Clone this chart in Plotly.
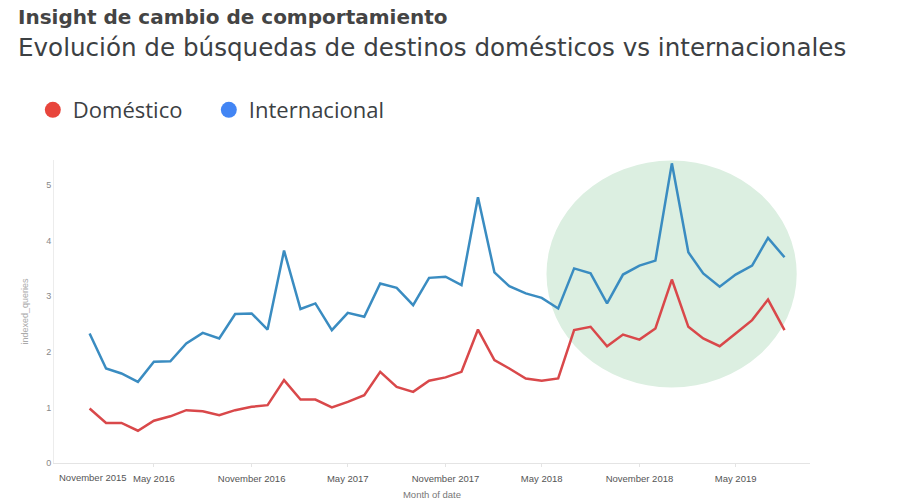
import plotly.graph_objects as go
import pandas as pd

months = pd.date_range("2016-01-01", periods=44, freq="MS").strftime("%Y-%m-%d").tolist()

internacional = [
    2.33, 1.70, 1.61, 1.46, 1.82, 1.83, 2.15, 2.34, 2.24, 2.68, 2.69, 2.40,
    3.82, 2.77, 2.87, 2.39, 2.70, 2.63, 3.23, 3.15, 2.84, 3.33, 3.35, 3.20,
    4.78, 3.43, 3.18, 3.05, 2.97, 2.78, 3.50, 3.41, 2.87, 3.39, 3.55, 3.64,
    5.39, 3.79, 3.41, 3.17, 3.39, 3.55, 4.05, 3.70,
]
domestico = [
    0.98, 0.72, 0.72, 0.58, 0.76, 0.84, 0.95, 0.93, 0.86, 0.95, 1.01, 1.04,
    1.49, 1.14, 1.14, 1.00, 1.10, 1.22, 1.64, 1.37, 1.28, 1.48, 1.54, 1.64,
    2.40, 1.85, 1.70, 1.52, 1.48, 1.52, 2.39, 2.45, 2.10, 2.31, 2.22, 2.42,
    3.30, 2.45, 2.24, 2.10, 2.33, 2.57, 2.94, 2.39,
]

tick_dates = ["2016-05-01", "2016-11-01", "2017-05-01", "2017-11-01",
              "2018-05-01", "2018-11-01", "2019-05-01"]
tick_labels = ["May 2016", "November 2016", "May 2017", "November 2017",
               "May 2018", "November 2018", "May 2019"]
first_tick_date = "2015-11-01"
first_tick_label = "November 2015"

RED_LINE = "#d9484a"
BLUE_LINE = "#3a8cc1"
RED_DOT = "#e8453c"
BLUE_DOT = "#4285f4"

fig = go.Figure()

fig.add_trace(go.Scatter(x=months, y=internacional, mode="lines",
                         line=dict(color=BLUE_LINE, width=2.5), showlegend=False))
fig.add_trace(go.Scatter(x=months, y=domestico, mode="lines",
                         line=dict(color=RED_LINE, width=2.5), showlegend=False))

# legend entries (dots)
fig.add_trace(go.Scatter(x=[None], y=[None], mode="markers", name="Doméstico",
                         marker=dict(color=RED_DOT, size=20)))
fig.add_trace(go.Scatter(x=[None], y=[None], mode="markers", name="Internacional",
                         marker=dict(color=BLUE_DOT, size=20)))

fig.add_shape(type="circle", xref="x", yref="y",
              x0="2018-05-10", x1="2019-08-24", y0=1.36, y1=5.44,
              fillcolor="#dcefe1", line=dict(width=0), layer="below")

fig.update_layout(
    width=900, height=500,
    margin=dict(l=54, r=90, t=160, b=37, autoexpand=False),
    plot_bgcolor="white", paper_bgcolor="white",
    font=dict(family="Open Sans, Roboto, Arial, sans-serif", color="#444"),
    showlegend=True,
    legend=dict(orientation="h", x=-0.028, xanchor="left", y=1.165, yanchor="middle",
                font=dict(size=22, color="#3c4043", family="Open Sans"),
                itemsizing="trace", bgcolor="rgba(0,0,0,0)",
                entrywidth=131, entrywidthmode="pixels"),
    xaxis=dict(type="date", range=["2015-10-26", "2019-09-18"],
               tickvals=tick_dates, ticktext=tick_labels,
               showgrid=False, zeroline=False, showline=True, linecolor="#e4e4e4",
               ticks="outside", ticklen=3, tickcolor="#e4e4e4", ticklabelstandoff=4,
               tickfont=dict(size=9.5, color="#555", family="Liberation Sans"),
               title=dict(text="Month of date", font=dict(size=9.5, color="#777", family="Liberation Sans"), standoff=8),
               automargin=False),
    yaxis=dict(range=[0, 5.45], tickvals=[0, 1, 2, 3, 4, 5],
               showgrid=False, zeroline=False, showline=True, linecolor="#ececec",
               ticks="", tickfont=dict(size=9, color="#888", family="Liberation Sans"),
               title=dict(text="indexed_queries", font=dict(size=9, color="#aaa", family="Liberation Sans"), standoff=16),
               automargin=False),
    annotations=[
        dict(text="<b>Insight de cambio de comportamiento</b>", xref="paper", yref="paper",
             x=-0.0506, y=1.472, xanchor="left", yanchor="middle", showarrow=False,
             font=dict(size=20, color="#444", family="DejaVu Sans")),
        dict(text="Evolución de búsquedas de destinos domésticos vs internacionales",
             xref="paper", yref="paper", x=-0.0506, y=1.37, xanchor="left", yanchor="middle",
             showarrow=False, font=dict(size=24.6, color="#3c4043", family="DejaVu Sans")),
        dict(text=first_tick_label, xref="x", yref="paper", x=first_tick_date, y=0,
             xanchor="left", yanchor="top", yshift=-7, showarrow=False,
             font=dict(size=9.5, color="#555", family="Liberation Sans")),
    ],
)

fig.write_html("out.html")
